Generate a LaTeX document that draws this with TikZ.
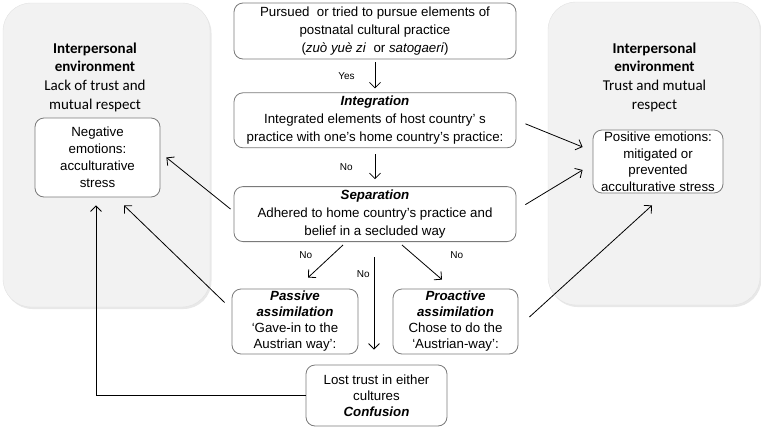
\documentclass[tikz,border=0pt]{standalone}
\usepackage{fontspec}
\setmainfont{Liberation Sans}
\newfontfamily\calib{Carlito}
\usetikzlibrary{arrows.meta, positioning, shadows}
\definecolor{panelgray}{HTML}{F2F2F2}
\definecolor{paneledge}{HTML}{E2E2E2}
\definecolor{boxline}{HTML}{7A7A7A}

\begin{document}
\begin{tikzpicture}[
    x=1pt, y=-1pt,
    >={Straight Barb[length=5.5pt,width=11pt]},
    panel/.style={
        fill=panelgray,
        draw=paneledge,
        rounded corners=28pt,
        drop shadow={opacity=0.18, shadow xshift=1.5pt, shadow yshift=-2pt}
    },
    box/.style={
        draw=boxline,
        fill=white,
        line width=0.8pt,
        rounded corners=9pt,
        align=center,
        inner sep=0pt,
        font=\fontsize{13.3}{17}\selectfont
    },
    wide/.style={box, minimum width=282pt, minimum height=55pt,
        font=\fontsize{13.3}{18}\selectfont},
    assim/.style={box, minimum width=126pt, minimum height=65pt,
        font=\fontsize{13.3}{16}\selectfont},
    envtitle/.style={align=center, font=\calib\fontsize{15}{18.7}\selectfont},
    lbl/.style={font=\fontsize{10}{12}\selectfont, inner sep=0pt},
    link/.style={->, line width=0.8pt}
]
\useasboundingbox (0,0) rectangle (761,429);

% interpersonal environments
\node[panel, minimum width=207pt, minimum height=304pt] (leftenv) at (106.5,155) {};
\node[panel, minimum width=212pt, minimum height=303pt] (rightenv) at (654,153.5) {};
\node[envtitle] (lefttitle) at (95,77)
    {\textbf{Interpersonal}\\ \textbf{environment}\\ Lack of trust and\\ mutual respect};
\node[envtitle] (righttitle) at (654.5,77)
    {\textbf{Interpersonal}\\ \textbf{environment}\\ Trust and mutual\\ respect};
\node[box, minimum width=125pt, minimum height=79pt] (neg) at (97.5,157.5)
    {Negative\\ emotions:\\ acculturative\\ stress};
\node[box, minimum width=130pt, minimum height=63pt, font=\fontsize{13.3}{16.5}\selectfont] (pos) at (658,161.5)
    {Positive emotions:\\ mitigated or\\ prevented\\ acculturative stress};

% strategies
\node[wide, minimum height=56pt] (top) at (375,31)
    {Pursued\ \ or tried to pursue elements of\\ postnatal cultural practice\\ (\textit{zuò yuè zi}\ \ or \textit{satogaeri})};
\node[wide, below=33pt of top] (integ)
    {\textbf{\textit{Integration}}\\ Integrated elements of host country’ s\\ practice with one’s home country’s practice:};
\node[wide, below=38pt of integ] (sep)
    {\textbf{\textit{Separation}}\\ Adhered to home country’s practice and\\ belief in a secluded way};
\node[assim] (passive) at (295,321.5)
    {\textbf{\textit{Passive}}\\ \textbf{\textit{assimilation}}\\ ‘Gave-in to the\\ Austrian way’:};
\node[assim, minimum width=125pt] (proactive) at (455.5,321.5)
    {\textbf{\textit{Proactive}}\\ \textbf{\textit{assimilation}}\\ Chose to do the\\ ‘Austrian-way’:};
\node[box, minimum width=141pt, minimum height=61pt, font=\fontsize{13.3}{16}\selectfont] (confusion) at (376.5,395.5)
    {Lost trust in either\\ cultures\\ \textbf{\textit{Confusion}}};

% flow
\draw[link, shorten <=3pt, shorten >=4pt] (top) -- node[lbl, left=20pt] {Yes} (integ);
\draw[link, shorten <=6pt, shorten >=7pt] (integ) -- node[lbl, left=22pt] {No} (sep);
\draw[link] ([xshift=-32pt,yshift=-3pt]sep.south) -- node[lbl, pos=0.3, left=20pt] {No} ([xshift=13pt,yshift=11pt]passive.north);
\draw[link] ([xshift=27pt,yshift=-3pt]sep.south) -- node[lbl, pos=0.3, right=36pt] {No} ([xshift=-13.5pt,yshift=9pt]proactive.north);
\draw[link] ([xshift=-1pt,yshift=-15pt]sep.south) -- node[lbl, pos=0.19, left=4pt] {No} ([xshift=-2.5pt,yshift=15pt]confusion.north);

% outcomes
\draw[link] (confusion.west) -| ([xshift=-1.5pt,yshift=-8pt]neg.south);
\draw[link] ([xshift=-3pt,yshift=5pt]sep.west) -- ([xshift=6pt]neg.east);
\draw[link] ([xshift=-7pt,yshift=19pt]passive.west) -- ([xshift=26.5pt,yshift=-8pt]neg.south);
\draw[link] ([xshift=9pt,yshift=-3.5pt]integ.east) -- ([xshift=-10pt,yshift=14.5pt]pos.west);
\draw[link] ([xshift=9pt,yshift=9.5pt]sep.east) -- ([xshift=-10pt,yshift=-8.5pt]pos.west);
\draw[link] ([xshift=11pt,yshift=4.5pt]proactive.east) -- ([xshift=-6pt,yshift=-12pt]pos.south);
\end{tikzpicture}
\end{document}
